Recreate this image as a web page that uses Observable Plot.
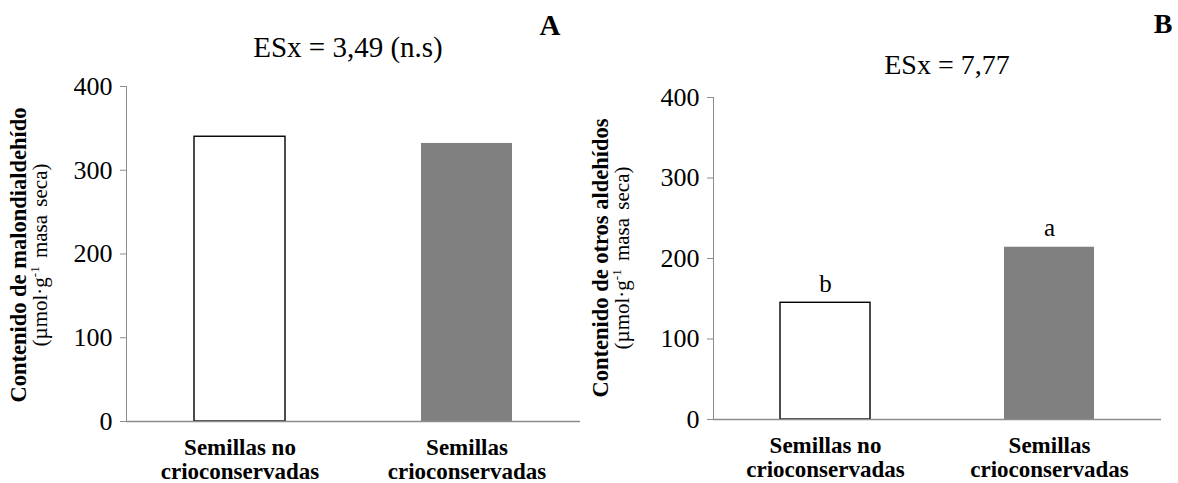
<!DOCTYPE html>
<html><head><meta charset="utf-8">
<script src="https://cdn.jsdelivr.net/npm/d3@7"></script>
<script src="https://cdn.jsdelivr.net/npm/@observablehq/plot@0.6"></script>
<style>
body{margin:0;background:#fff;}
#wrap{position:relative;width:1178px;height:483px;font-family:"Liberation Serif","Times New Roman",serif;color:#000;overflow:hidden;}
.panel{position:absolute;top:0;}
.t{position:absolute;white-space:nowrap;transform:translate(-50%,-50%);line-height:1;font-family:"Liberation Serif","Times New Roman",serif;}
.ylab{position:absolute;white-space:nowrap;transform:translate(-50%,-50%) rotate(-90deg);text-align:center;font-size:21px;line-height:21px;word-spacing:3px;font-family:"Liberation Serif","Times New Roman",serif;}
.ylab b{font-size:22.5px;word-spacing:0;}
sup{font-size:13px;line-height:0;vertical-align:8px;}
</style></head><body><div id="wrap"></div>
<script>
const categories = ["Semillas no\ncrioconservadas", "Semillas\ncrioconservadas"];
const malondialdehido = [340, 332];
const otrosAldehidos = [145, 214];
const letrasB = ["b", "a"];
const yTicks = [0, 100, 200, 300, 400];
const titleA = "ESx = 3,49 (n.s)";
const titleB = "ESx = 7,77";
const ylabA = "Contenido de malondialdehído";
const ylabB = "Contenido de otros aldehídos";

const wrap = document.getElementById("wrap");
const SERIF = '"Liberation Serif","Times New Roman",serif';

function panel({values, letters, left, width, mt, ml, mr, mb}) {
  const data = categories.map((c, i) => ({cat: c, v: values[i], lab: letters ? letters[i] : ""}));
  const chart = Plot.plot({
    width, height: 483,
    marginTop: mt, marginLeft: ml, marginRight: mr, marginBottom: mb,
    style: {fontFamily: SERIF, background: "white", color: "black", overflow: "visible"},
    x: {domain: categories, paddingInner: 0.6, paddingOuter: 0.3, label: null},
    y: {domain: [0, 400], label: null},
    color: {domain: categories, range: ["white", "#808080"]},
    marks: [
      Plot.barY(data, {x: "cat", y: "v", fill: "cat"}),
      Plot.barY(data, {x: "cat", y: "v", fill: "none", stroke: "black", strokeWidth: 1.4, filter: (d, i) => i === 0}),
      Plot.ruleY([0], {stroke: "#8c8c8c", strokeWidth: 1.5}),
      Plot.frame({anchor: "left", stroke: "#8c8c8c"}),
      Plot.axisY({ticks: yTicks, tickSize: 6, tickPadding: 8, stroke: "#8c8c8c", fill: "black", fontSize: 26, fontFamily: SERIF, label: null}),
      Plot.axisX({tickSize: 0, tickPadding: 16, fill: "black", fontSize: 23, fontWeight: "bold", fontFamily: SERIF, lineHeight: 1.05, label: null}),
      Plot.text(data, {x: "cat", y: "v", text: "lab", lineAnchor: "bottom", dy: -11, fontSize: 25, fontFamily: SERIF, fill: "black"})
    ]
  });
  chart.classList.add("panel");
  chart.style.left = left + "px";
  wrap.appendChild(chart);
}

panel({values: malondialdehido, letters: null, left: 0, width: 590, mt: 86, ml: 126, mr: 10, mb: 62});
panel({values: otrosAldehidos, letters: letrasB, left: 590, width: 588, mt: 97, ml: 123, mr: 17, mb: 64});

function addText(txt, x, y, css) {
  const d = document.createElement("div");
  d.className = "t";
  d.textContent = txt;
  d.style.left = x + "px";
  d.style.top = y + "px";
  Object.assign(d.style, css);
  wrap.appendChild(d);
}
addText(titleA, 348, 47, {fontSize: "29px"});
addText(titleB, 947, 65, {fontSize: "28px"});
addText("A", 550, 25, {fontSize: "29px", fontWeight: "bold"});
addText("B", 1163, 24, {fontSize: "28px", fontWeight: "bold"});

function addYLab(bold, x, y) {
  const d = document.createElement("div");
  d.className = "ylab";
  d.style.left = x + "px";
  d.style.top = y + "px";
  const b = document.createElement("b");
  b.textContent = bold;
  d.appendChild(b);
  d.appendChild(document.createElement("br"));
  d.appendChild(document.createTextNode("(µmol·g"));
  const s = document.createElement("sup");
  s.textContent = "-1";
  d.appendChild(s);
  d.appendChild(document.createTextNode(" masa seca)"));
  wrap.appendChild(d);
}
addYLab(ylabA, 29, 255);
addYLab(ylabB, 611, 258);
</script>
</body></html>
